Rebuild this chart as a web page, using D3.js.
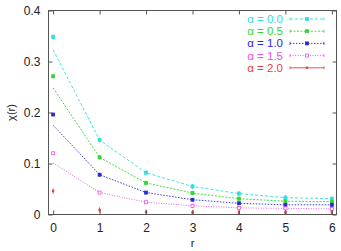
<!DOCTYPE html>
<html><head><meta charset="utf-8">
<script src="https://cdn.jsdelivr.net/npm/d3@7"></script>
<style>body{margin:0;background:#fff}svg{display:block}text{font-family:"Liberation Sans",Arial,sans-serif}</style>
</head><body><svg id="c" width="341" height="251"></svg>
<script>
const rValues = [0, 1, 2, 3, 4, 5, 6];
const seriesNames = ["α = 0.0", "α = 0.5", "α = 1.0", "α = 1.5", "α = 2.0"];
const colors = ["#33dede", "#33d633", "#2a2ad8", "#ec4cec", "#ec3c3c"];
const dashes = ["3,2", "2,1.5", "1.5,1.5", "1,1.5", null];
const markerFill = [true, true, true, false, true];
// measured data points
const points00 = [0.348, 0.146, 0.082, 0.055, 0.041, 0.033, 0.031];
const points05 = [0.271, 0.112, 0.062, 0.042, 0.031, 0.026, 0.025];
const points10 = [0.196, 0.078, 0.043, 0.029, 0.022, 0.019, 0.019];
const points15 = [0.120, 0.043, 0.024, 0.017, 0.013, 0.012, 0.011];
const points20 = [0.046, 0.009, 0.005, 0.004, 0.004, 0.004, 0.004];
const errors = [0.005, 0.004, 0.003, 0.003, 0.005];
// fitted curves
const curve00 = [0.323, 0.146, 0.082, 0.055, 0.041, 0.033, 0.031];
const curve05 = [0.248, 0.112, 0.062, 0.042, 0.031, 0.026, 0.025];
const curve10 = [0.175, 0.078, 0.043, 0.029, 0.022, 0.019, 0.019];
const curve15 = [0.101, 0.043, 0.024, 0.017, 0.013, 0.012, 0.011];
const curve20 = [0.000, 0.000, 0.000, 0.000, 0.000, 0.000, 0.000];
const xTicks = [0, 1, 2, 3, 4, 5, 6];
const yTicks = [0, 0.1, 0.2, 0.3, 0.4];

const pointsAll = [points00, points05, points10, points15, points20];
const curvesAll = [curve00, curve05, curve10, curve15, curve20];

const svg = d3.select("#c");
const L = 48.5, R = 336.5, T = 10.5, B = 214.5;
const x = d3.scaleLinear().domain([-0.1, 6.1]).range([L, R]);
const y = d3.scaleLinear().domain([0, 0.4]).range([B, T]);
const axisColor = "#555";

const line = d3.line().x((d, i) => x(rValues[i])).y(d => y(d));

function marker(g, cx, cy, i, s) {
  g.append("rect").attr("x", cx - s / 2).attr("y", cy - s / 2).attr("width", s).attr("height", s)
    .attr("fill", markerFill[i] ? colors[i] : "#fff").attr("stroke", colors[i]).attr("stroke-width", 0.8);
}

curvesAll.forEach((c, i) => {
  const p = svg.append("path").datum(c).attr("d", line).attr("fill", "none")
    .attr("stroke", colors[i]).attr("stroke-width", 0.9);
  if (dashes[i]) p.attr("stroke-dasharray", dashes[i]);
});

pointsAll.forEach((pts, i) => {
  const g = svg.append("g");
  pts.forEach((v, j) => {
    const cx = x(rValues[j]);
    g.append("line").attr("x1", cx).attr("x2", cx).attr("y1", y(v + errors[i])).attr("y2", y(v - errors[i]))
      .attr("stroke", colors[i]).attr("stroke-width", 1);
    marker(g, cx, y(v), i, i === 4 ? 1.5 : 3);
  });
});

// axes with inward ticks
const gx = svg.append("g").attr("transform", `translate(0,${B})`)
  .call(d3.axisBottom(x).tickValues(xTicks).tickSize(-4).tickPadding(9).tickFormat(d3.format("d")));
const gy = svg.append("g").attr("transform", `translate(${L},0)`)
  .call(d3.axisLeft(y).tickValues(yTicks).tickSize(-4).tickPadding(8).tickFormat(d => d === 0 ? "0" : d3.format(".1f")(d)));
const gx2 = svg.append("g").attr("transform", `translate(0,${T})`)
  .call(d3.axisTop(x).tickValues(xTicks).tickSize(-4).tickFormat(""));
const gy2 = svg.append("g").attr("transform", `translate(${R},0)`)
  .call(d3.axisRight(y).tickValues(yTicks).tickSize(-4).tickFormat(""));
[gx, gy, gx2, gy2].forEach(g => {
  g.select(".domain").remove();
  g.selectAll("line").attr("stroke", axisColor);
  g.selectAll("text").attr("font-size", 12).attr("fill", "#222").style("font-family", "Liberation Sans, Arial, sans-serif");
});
svg.append("rect").attr("x", L).attr("y", T).attr("width", R - L).attr("height", B - T)
  .attr("fill", "none").attr("stroke", axisColor).attr("stroke-width", 1);

svg.append("text").attr("x", x(3)).attr("y", 247).attr("text-anchor", "middle")
  .attr("font-size", 11).attr("fill", "#222").text("r");
svg.append("text").attr("transform", `translate(15,${(T + B) / 2}) rotate(-90)`).attr("text-anchor", "middle")
  .attr("font-size", 11).attr("fill", "#222").text("χ(r)");

// legend
seriesNames.forEach((name, i) => {
  const ly = 19 + i * 12.2;
  svg.append("text").attr("x", 283).attr("y", ly + 4).attr("text-anchor", "end")
    .attr("font-size", 11.5).attr("fill", colors[i]).text(name);
  const l = svg.append("line").attr("x1", 290).attr("x2", 324).attr("y1", ly).attr("y2", ly)
    .attr("stroke", colors[i]).attr("stroke-width", 0.9);
  if (dashes[i]) l.attr("stroke-dasharray", dashes[i]);
  [290, 324].forEach(ex => svg.append("line").attr("x1", ex).attr("x2", ex).attr("y1", ly - 1.5).attr("y2", ly + 1.5)
    .attr("stroke", colors[i]).attr("stroke-width", 0.8));
  marker(svg, 307, ly, i, i === 4 ? 1.5 : 3);
});
</script></body></html>
